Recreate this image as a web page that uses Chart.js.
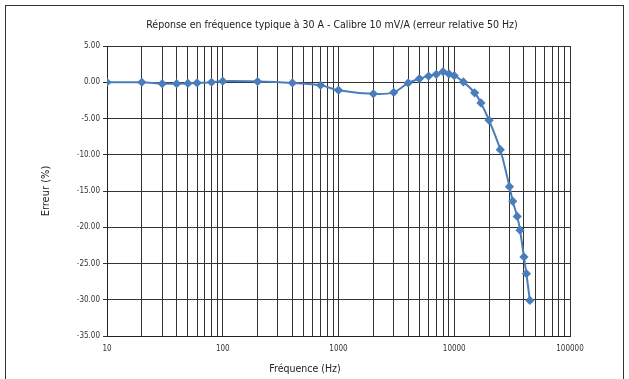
<!DOCTYPE html>
<html>
<head>
<meta charset="utf-8">
<script src="https://cdn.jsdelivr.net/npm/chart.js@4/dist/chart.umd.min.js"></script>
<style>
  html, body { margin: 0; padding: 0; background: #fff; }
  #wrap { width: 629px; height: 379px; }
</style>
</head>
<body>
<div id="wrap"><canvas id="c" width="629" height="379"></canvas></div>
<script>
// values
const freqHz = [10, 20, 30, 40, 50, 60, 80, 100, 200, 400, 700, 1000, 2000, 3000, 4000, 5000, 6000, 7000, 8000, 9000,
  10000, 12000, 15000, 17000, 20000, 25000, 30000, 32000, 35000, 37000, 40000, 42000, 45000];
const errPct = [0, 0, -0.2, -0.2, -0.15, -0.1, 0, 0.15, 0.1, -0.1, -0.4, -1.1, -1.6, -1.4, -0.1, 0.5, 0.85, 1.1, 1.45, 1.15,
  0.9, 0.05, -1.45, -2.85, -5.25, -9.3, -14.4, -16.4, -18.5, -20.4, -24.1, -26.4, -30.1];
const xTicks = [10, 20, 30, 40, 50, 60, 70, 80, 90, 100, 200, 300, 400, 500, 600, 700, 800, 900,
  1000, 2000, 3000, 4000, 5000, 6000, 7000, 8000, 9000, 10000, 20000, 30000, 40000, 50000, 60000, 70000, 80000, 90000, 100000];
const xLabels = [10, 100, 1000, 10000, 100000];
const xTitle = 'Fréquence (Hz)';

const FONT = '"DejaVu Sans Condensed", "Liberation Sans", Arial, sans-serif';
const blue = '#4a7ebb';

const frame = {
  id: 'frame',
  beforeDraw(chart) {
    const ctx = chart.ctx;
    ctx.save();
    ctx.fillStyle = '#fff';
    ctx.fillRect(0, 0, chart.width, chart.height);
    ctx.strokeStyle = '#333';
    ctx.lineWidth = 1;
    ctx.strokeRect(5.5, 5.5, 618, 400);
    ctx.restore();
  },
  // x axis title sits left of the plot centre in the original
  afterDraw(chart) {
    const ctx = chart.ctx;
    ctx.save();
    ctx.font = '10.5px ' + FONT;
    ctx.fillStyle = '#222';
    ctx.textAlign = 'center';
    ctx.textBaseline = 'middle';
    ctx.fillText(xTitle, 305, 369);
    ctx.restore();
  }
};

new Chart(document.getElementById('c'), {
  type: 'scatter',
  data: {
    datasets: [{
      data: freqHz.map((f, i) => ({ x: f, y: errPct[i] })),
      showLine: true,
      borderColor: blue,
      backgroundColor: blue,
      borderWidth: 2,
      pointStyle: 'rectRot',
      pointRadius: 3.2,
      tension: 0.3
    }]
  },
  options: {
    responsive: false,
    animation: false,
    layout: { padding: { left: 35, right: 0, top: 0, bottom: 0 } },
    plugins: {
      legend: { display: false },
      tooltip: { enabled: false },
      title: {
        display: true,
        text: 'Réponse en fréquence typique à 30 A - Calibre 10 mV/A (erreur relative 50 Hz)',
        color: '#222',
        font: { family: FONT, size: 10.5, weight: 'normal' },
        padding: { top: 18.7, bottom: 14.7 }
      }
    },
    scales: {
      x: {
        type: 'logarithmic',
        min: 10,
        max: 100000,
        afterBuildTicks: s => { s.ticks = xTicks.map(v => ({ value: v })); },
        afterFit: s => { s.height = 43; },
        ticks: {
          autoSkip: false,
          maxRotation: 0,
          padding: 8,
          color: '#333',
          font: { family: FONT, size: 8 },
          callback: v => xLabels.includes(v) ? String(v) : ''
        },
        grid: { color: '#333', lineWidth: 1, drawTicks: false },
        border: { color: '#222', width: 1 }
      },
      y: {
        min: -35,
        max: 5,
        afterFit: s => { s.width = 72; },
        ticks: {
          stepSize: 5,
          padding: 3,
          color: '#333',
          font: { family: FONT, size: 8 },
          callback: v => v.toFixed(2)
        },
        grid: { color: '#333', lineWidth: 1, tickLength: 4 },
        border: { color: '#222', width: 1 },
        title: {
          display: true,
          text: 'Erreur (%)',
          color: '#222',
          font: { family: FONT, size: 11 },
          padding: { top: 4.5 }
        }
      },
      yRight: {
        type: 'linear',
        axis: 'y',
        position: 'right',
        min: -35,
        max: 5,
        afterFit: s => { s.width = 59; },
        ticks: { display: false },
        grid: { display: false },
        border: { display: false }
      }
    }
  },
  plugins: [frame]
});
</script>
</body>
</html>
